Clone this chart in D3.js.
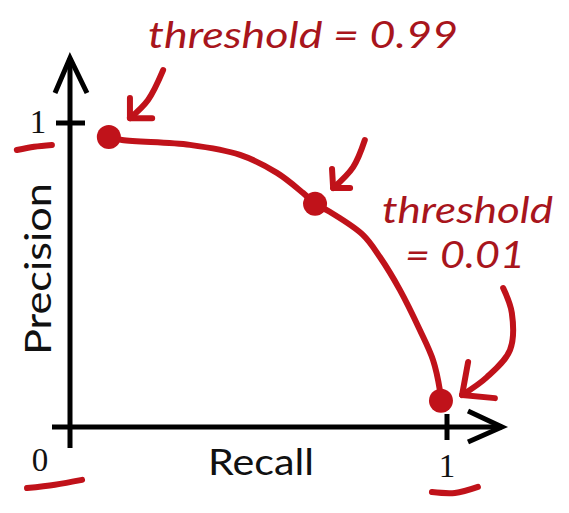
<!DOCTYPE html>
<html><head><meta charset="utf-8">
<script src="https://cdn.jsdelivr.net/npm/d3@7"></script>
<style>html,body{margin:0;padding:0;background:#fff;}svg{display:block;}</style>
</head><body>
<svg id="chart" width="569" height="513"></svg>
<script>
// ---- data ----
const recall    = [0.103, 0.138, 0.318, 0.451, 0.549, 0.618, 0.650, 0.690, 0.777, 0.822, 0.875, 0.928, 0.963, 0.981, 0.984];
const precision = [0.954, 0.944, 0.928, 0.895, 0.836, 0.770, 0.734, 0.707, 0.632, 0.559, 0.451, 0.319, 0.220, 0.122, 0.086];
const markedIdx = [0, 6, 14];
const xTicks = [0, 1];
const yTicks = [1];
const xTickLabels = ["0", "1"];
const yTickLabels = ["1"];
const xTitle = "Recall";
const yTitle = "Precision";
const labelTop = "threshold = 0.99";
const labelRight1 = "threshold";
const labelRight2 = "= 0.01";
// annotation arrows (in recall/precision units)
const arrowShafts = [
  [[0.247,1.174],[0.207,1.076],[0.159,1.016]],
  [[0.782,0.944],[0.751,0.855],[0.698,0.786]],
  [[1.149,0.457],[1.172,0.375],[1.167,0.253],[1.106,0.164],[1.040,0.105]]
];
const arrowHeads = [
  [[0.159,1.082],[0.159,1.016],[0.218,1.016]],
  [[0.695,0.849],[0.698,0.786],[0.743,0.786]],
  [[1.056,0.214],[1.040,0.105],[1.127,0.095]]
];
const underlines = [
  [[-0.141,0.911],[-0.095,0.922],[-0.048,0.928]],
  [[-0.114,-0.201],[-0.040,-0.190],[0.032,-0.174]],
  [[0.960,-0.214],[1.021,-0.217],[1.082,-0.197]]
];

// ---- drawing ----
const svg = d3.select("#chart");
const x = d3.scaleLinear().domain([0,1]).range([70,447]);
const y = d3.scaleLinear().domain([0,1]).range([427,123]);
const red = "#c0121a", redText = "#a8151c";

// axes
const axisG = svg.append("g").attr("stroke","#000").attr("stroke-width",5).attr("fill","none")
  .attr("stroke-linecap","butt");
const xMin = x.invert(52), xMax = x.invert(502), yMin = y.invert(448), yMax = y.invert(58);
axisG.append("line").attr("x1",x(xMin)).attr("x2",x(xMax)).attr("y1",y(0)).attr("y2",y(0));
axisG.append("line").attr("x1",x(0)).attr("x2",x(0)).attr("y1",y(yMin)).attr("y2",y(yMax));
axisG.append("path").attr("d",`M${x(xMax)-34},${y(0)-16}L${x(xMax)},${y(0)}L${x(xMax)-34},${y(0)+15}`)
  .attr("stroke-linejoin","miter");
axisG.append("path").attr("d",`M${x(0)-15},${y(yMax)+35}L${x(0)},${y(yMax)}L${x(0)+17},${y(yMax)+35}`)
  .attr("stroke-linejoin","miter");
// ticks
yTicks.forEach(t => axisG.append("line").attr("x1",x(0)-14).attr("x2",x(0)+15).attr("y1",y(t)).attr("y2",y(t)));
xTicks.filter(t=>t>0).forEach(t => axisG.append("line").attr("x1",x(t)).attr("x2",x(t)).attr("y1",y(0)-13).attr("y2",y(0)+13));

// tick labels
const tl = svg.append("g").attr("font-family","'Liberation Serif', serif").attr("font-size",33).attr("fill","#111").attr("text-anchor","middle");
xTicks.forEach((t,i) => tl.append("text").attr("x", t===0 ? x(t)-30 : x(t)).attr("y", t===0 ? 471 : 477).text(xTickLabels[i]));
yTicks.forEach((t,i) => tl.append("text").attr("x", x(0)-32).attr("y", y(t)+10).text(yTickLabels[i]));

// axis titles
svg.append("text").attr("x",261).attr("y",475).attr("text-anchor","middle")
  .attr("font-family","Lato, 'Open Sans', sans-serif").attr("font-size",37).attr("fill","#111")
  .attr("textLength",106).attr("lengthAdjust","spacingAndGlyphs").text(xTitle);
svg.append("text").attr("transform","translate(51,269) rotate(-90)").attr("text-anchor","middle")
  .attr("font-family","Lato, 'Open Sans', sans-serif").attr("font-size",37).attr("fill","#111")
  .attr("textLength",172).attr("lengthAdjust","spacingAndGlyphs").text(yTitle);

// underline marks
const lineGen = d3.line().x(d=>x(d[0])).y(d=>y(d[1])).curve(d3.curveCatmullRom);
svg.append("g").selectAll("path").data(underlines).join("path")
  .attr("d",lineGen).attr("fill","none").attr("stroke",red).attr("stroke-width",6).attr("stroke-linecap","round");

// curve
const pts = recall.map((r,i)=>[r,precision[i]]);
svg.append("path").datum(pts).attr("d",lineGen).attr("fill","none").attr("stroke",red)
  .attr("stroke-width",6).attr("stroke-linecap","round").attr("stroke-linejoin","round");
svg.append("g").selectAll("circle").data(markedIdx).join("circle")
  .attr("cx",i=>x(recall[i])).attr("cy",i=>y(precision[i])).attr("r",12).attr("fill",red);

// arrows
const arrG = svg.append("g").attr("fill","none").attr("stroke",red).attr("stroke-width",6)
  .attr("stroke-linecap","round").attr("stroke-linejoin","round");
arrG.selectAll("path.s").data(arrowShafts).join("path").attr("class","s").attr("d",lineGen);
arrG.selectAll("path.h").data(arrowHeads).join("path").attr("class","h").attr("d",d3.line().x(d=>x(d[0])).y(d=>y(d[1])));

// annotation text
const at = svg.append("g").attr("font-family","Lato, 'Open Sans', sans-serif").attr("font-style","italic")
  .attr("font-size",36).attr("fill",redText).attr("lengthAdjust","spacingAndGlyphs");
at.append("text").attr("x",148).attr("y",48).attr("textLength",310).attr("lengthAdjust","spacingAndGlyphs").text(labelTop);
at.append("text").attr("x",382).attr("y",223).attr("textLength",171).attr("lengthAdjust","spacingAndGlyphs").text(labelRight1);
at.append("text").attr("x",405).attr("y",268).attr("textLength",120).attr("lengthAdjust","spacingAndGlyphs").text(labelRight2);
</script>
</body></html>
